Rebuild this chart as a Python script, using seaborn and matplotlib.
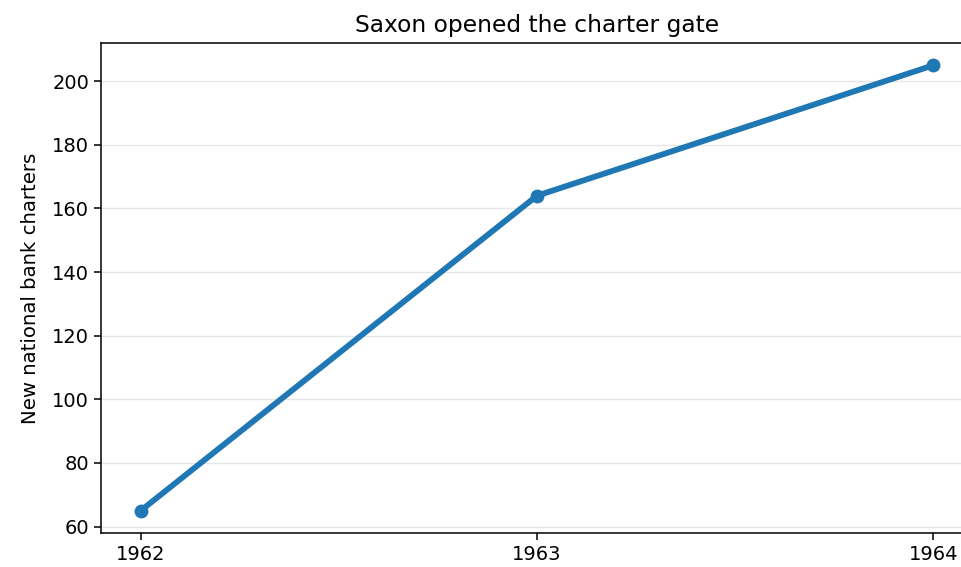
import pandas as pd
import matplotlib
matplotlib.use("Agg")
import matplotlib.pyplot as plt
import seaborn as sns

sns.set_style("ticks")
plt.rcParams['font.family'] = ['DejaVu Sans']
plt.rcParams['text.color'] = 'black'
plt.rcParams['axes.labelcolor'] = 'black'
plt.rcParams['xtick.color'] = 'black'
plt.rcParams['ytick.color'] = 'black'

years = [1962, 1963, 1964]
charters = [65, 164, 205]
df = pd.DataFrame({"year": years, "charters": charters})

fig = plt.figure(figsize=(9.61, 5.67), dpi=100)
ax = fig.add_axes([101 / 961, 1 - 533 / 567, (973 - 101) / 961, (533 - 43) / 567])

sns.lineplot(data=df, x="year", y="charters", ax=ax, color="#1f77b4",
             linewidth=4.2, marker="o", markersize=10, markeredgewidth=0)

ax.set_title("Saxon opened the charter gate", fontsize=16.8, pad=8)
ax.set_xlabel("")
ax.set_ylabel("New national bank charters", fontsize=14.2, labelpad=9)
ax.set_xticks(years)
ax.set_xticklabels([str(y) for y in years])
ax.tick_params(labelsize=14, length=5, width=1.1)
ax.yaxis.grid(True, color="#e6e6e6", linewidth=1)
ax.set_axisbelow(True)
for s in ax.spines.values():
    s.set_color("black")
    s.set_linewidth(1.1)

fig.savefig("out.png", dpi=100)
